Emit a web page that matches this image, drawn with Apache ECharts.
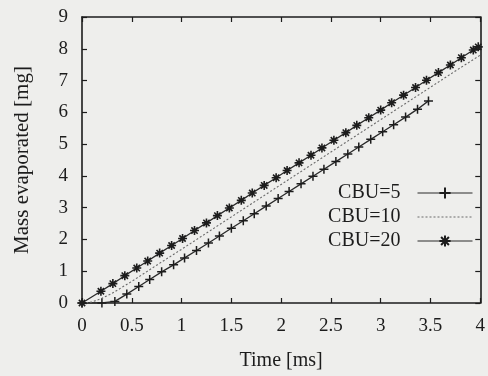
<!DOCTYPE html>
<html>
<head>
<meta charset="utf-8">
<script src="https://cdn.jsdelivr.net/npm/echarts@6/dist/echarts.min.js"></script>
<style>
  html, body { margin: 0; padding: 0; background: #eeeeec; }
  #chart { width: 488px; height: 376px; }
</style>
</head>
<body>
<div id="chart"></div>
<script>
// time [ms] and evaporated mass [mg]
const legendNames = ['CBU=5', 'CBU=10', 'CBU=20'];

const timeCbu5 = [0, 0.2, 0.33, 0.45, 0.57, 0.68, 0.8, 0.92, 1.03, 1.15, 1.27, 1.38, 1.5, 1.62, 1.73,
  1.85, 1.97, 2.08, 2.2, 2.32, 2.43, 2.55, 2.67, 2.78, 2.9, 3.02, 3.13, 3.25, 3.37, 3.48];
const massCbu5 = [0, 0, 0.05, 0.28, 0.52, 0.74, 0.98, 1.2, 1.42, 1.65, 1.89, 2.11, 2.35, 2.59, 2.81,
  3.05, 3.29, 3.51, 3.75, 3.99, 4.21, 4.45, 4.69, 4.91, 5.15, 5.39, 5.61, 5.85, 6.1, 6.36];

const timeCbu10 = [0, 0.1, 0.2, 0.3, 0.5, 0.75, 1, 1.25, 1.5, 1.75, 2, 2.25, 2.5, 2.75, 3, 3.25, 3.5, 3.75, 4];
const massCbu10 = [0, 0.03, 0.15, 0.3, 0.68, 1.19, 1.69, 2.2, 2.71, 3.22, 3.73, 4.24, 4.75, 5.26, 5.77, 6.28, 6.79, 7.3, 7.8];

const timeCbu20 = [0, 0.19, 0.31, 0.43, 0.55, 0.66, 0.78, 0.9, 1.01, 1.13, 1.25, 1.36, 1.48, 1.6, 1.71,
  1.83, 1.95, 2.06, 2.18, 2.3, 2.41, 2.53, 2.65, 2.76, 2.88, 3, 3.11, 3.23, 3.35, 3.46, 3.58, 3.7, 3.81, 3.93, 3.98];
const massCbu20 = [0, 0.37, 0.61, 0.86, 1.1, 1.32, 1.57, 1.81, 2.03, 2.28, 2.52, 2.75, 2.99, 3.23, 3.46,
  3.7, 3.94, 4.17, 4.41, 4.65, 4.88, 5.12, 5.36, 5.59, 5.83, 6.07, 6.3, 6.54, 6.78, 7.01, 7.25, 7.49, 7.72, 7.96, 8.06];

const pairs = (xs, ys) => xs.map((x, i) => [x, ys[i]]);

const ink = '#1c1c1c';
const font = 'Liberation Serif';
const plusSymbol = 'path://M5,0 L5,10 M0,5 L10,5';
const starSymbol = 'path://M5,0 L5,10 M0,5 L10,5 M1.5,1.5 L8.5,8.5 M8.5,1.5 L1.5,8.5';

const chart = echarts.init(document.getElementById('chart'));

const baseAxis = {
  type: 'value',
  axisLine: { show: true, onZero: false, lineStyle: { color: ink, width: 1.6 } },
  axisTick: { show: true, inside: true, length: 5, lineStyle: { color: ink, width: 1.2 } },
  splitLine: { show: false }
};

chart.setOption({
  animation: false,
  backgroundColor: '#eeeeec',
  textStyle: { fontFamily: font, color: ink },
  grid: { left: 82, right: 6, top: 17, bottom: 71 },
  legend: {
    data: legendNames,
    orient: 'vertical',
    align: 'right',
    right: 10,
    top: 178,
    itemWidth: 55,
    itemHeight: 14,
    itemGap: 4,
    lineStyle: { width: 1 },
    textStyle: { fontFamily: font, fontSize: 20, color: ink, padding: [0, 12, 0, 0] }
  },
  xAxis: [
    Object.assign({}, baseAxis, {
      position: 'bottom', min: 0, max: 4, interval: 0.5,
      name: 'Time [ms]', nameLocation: 'middle', nameGap: 48,
      nameTextStyle: { fontFamily: font, fontSize: 20, color: ink },
      axisLabel: { fontFamily: font, fontSize: 19, color: ink, margin: 14 }
    }),
    Object.assign({}, baseAxis, {
      position: 'top', min: 0, max: 4, interval: 0.5,
      axisLabel: { show: false }
    })
  ],
  yAxis: [
    Object.assign({}, baseAxis, {
      position: 'left', min: 0, max: 9, interval: 1,
      name: 'Mass evaporated [mg]', nameLocation: 'middle', nameGap: 49,
      nameTextStyle: { fontFamily: font, fontSize: 21, color: ink },
      axisLabel: { fontFamily: font, fontSize: 19, color: ink, margin: 14 }
    }),
    Object.assign({}, baseAxis, {
      position: 'right', min: 0, max: 9, interval: 1,
      axisLabel: { show: false }
    })
  ],
  series: [
    {
      name: 'CBU=5',
      type: 'line',
      data: pairs(timeCbu5, massCbu5),
      symbol: plusSymbol,
      symbolSize: 9,
      showSymbol: true,
      lineStyle: { color: '#2a2a2a', width: 1.3 },
      itemStyle: { color: 'rgba(0,0,0,0)', borderColor: ink, borderWidth: 1.5 }
    },
    {
      name: 'CBU=10',
      type: 'line',
      data: pairs(timeCbu10, massCbu10),
      symbol: 'none',
      lineStyle: { color: '#6a6a6a', width: 1.1, type: [2, 2] },
      itemStyle: { color: 'rgba(0,0,0,0)', borderWidth: 0 }
    },
    {
      name: 'CBU=20',
      type: 'line',
      data: pairs(timeCbu20, massCbu20),
      symbol: starSymbol,
      symbolSize: 9,
      showSymbol: true,
      lineStyle: { color: '#2a2a2a', width: 1.3 },
      itemStyle: { color: 'rgba(0,0,0,0)', borderColor: ink, borderWidth: 1.6 }
    }
  ]
});
</script>
</body>
</html>
